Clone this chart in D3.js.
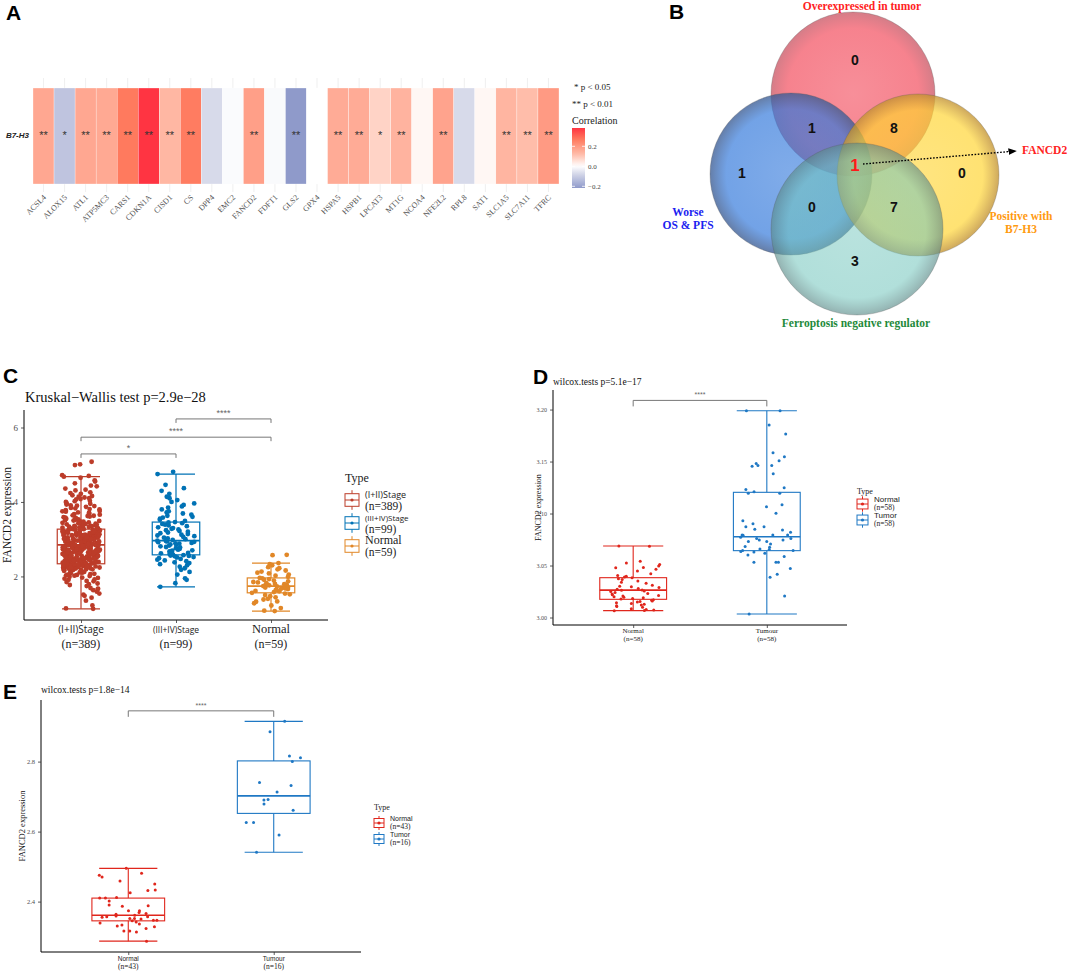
<!DOCTYPE html>
<html>
<head>
<meta charset="utf-8">
<script src="https://cdn.jsdelivr.net/npm/d3@7"></script>
<style>
  body { margin: 0; background: #fff; }
  svg { display: block; }
</style>
</head>
<body>
<svg id="fig" width="1072" height="974"></svg>
<script>
// ---------- data ----------
const genes = ["ACSL4","ALOX15","ATL1","ATP5MC3","CARS1","CDKN1A","CISD1","CS","DPP4","EMC2","FANCD2","FDFT1","GLS2",
  "GPX4","HSPA5","HSPB1","LPCAT3","MT1G","NCOA4","NFE2L2","RPL8","SAT1","SLC1A5","SLC7A11","TFRC"];
const corrB7H3 = [0.17,-0.12,0.17,0.165,0.27,0.383,0.13,0.265,-0.07,-0.008,0.19,-0.01,-0.217,
  0.0,0.16,0.16,0.08,0.14,0.015,0.18,-0.07,0.015,0.135,0.12,0.2];
const sigB7H3 = ["**","*","**","**","**","**","**","**","","","**","","**",
  "","**","**","*","**","","**","","","**","**","**"];
const corrTicks = [0.2, 0.0, -0.2];

const vennSets = ["Overexpressed in tumor", "Worse OS & PFS", "Positive with B7-H3", "Ferroptosis negative regulator"];
const vennCounts = [0, 1, 8, 1, 1, 0, 0, 7, 3];
const vennHit = "FANCD2";

// panel C
const stageGroups = ["(I+II)Stage", "(III+IV)Stage", "Normal"];
const stageN = [389, 99, 59];
const stageStats = [ // [lowWhisker, q1, median, q3, highWhisker]
  [1.13, 2.34, 2.85, 3.27, 4.68],
  [1.72, 2.58, 2.96, 3.46, 4.75],
  [1.07, 1.56, 1.74, 1.96, 2.36]
];
const stageEarly = [1.13,1.14,1.22,1.35,1.43,1.51,1.54,1.59,1.63,1.67,1.69,1.74,1.77,1.81,1.85,1.87,1.91,1.94,1.96,1.99,
  2.01,2.03,2.04,2.07,2.08,2.10,2.12,2.13,2.15,2.16,2.17,2.19,2.20,2.21,2.22,2.23,2.24,2.25,2.26,2.27,2.28,2.28,2.29,2.30,
  2.31,2.31,2.32,2.33,2.33,2.34,2.34,2.36,2.37,2.385,2.39,2.41,2.415,2.42,2.44,2.45,2.455,2.47,2.48,2.49,2.50,2.515,2.52,
  2.54,2.55,2.555,2.57,2.58,2.59,2.605,2.61,2.63,2.64,2.645,2.66,2.67,2.68,2.695,2.70,2.72,2.73,2.735,2.75,2.76,2.77,2.785,
  2.79,2.80,2.82,2.83,2.835,2.85,2.86,2.87,2.875,2.89,2.90,2.91,2.925,2.93,2.94,2.96,2.965,2.97,2.99,3.00,3.005,3.02,3.03,
  3.04,3.05,3.06,3.065,3.08,3.09,3.10,3.11,3.115,3.13,3.14,3.145,3.16,3.17,3.18,3.19,3.20,3.21,3.22,3.225,3.24,3.25,3.26,
  3.27,3.28,3.30,3.31,3.33,3.35,3.36,3.38,3.40,3.42,3.44,3.46,3.48,3.50,3.52,3.54,3.57,3.59,3.62,3.64,3.67,3.70,3.72,3.75,
  3.78,3.81,3.84,3.87,3.90,3.93,3.96,4.00,4.03,4.07,4.10,4.14,4.18,4.22,4.26,4.31,4.36,4.42,4.50,4.58,4.65,4.68,4.72,4.70,
  4.99,5.08,5.01,2.25,2.48,2.62,2.71,2.88,2.95,3.07,3.12,3.23,2.38,2.53,2.66,2.81,2.97,3.02,3.16,2.43,2.58,2.74,2.92,3.08,
  3.29,2.19,2.35,2.52,2.68,2.86,3.01,3.19,3.34,2.46,2.77,3.11,2.61,2.84,3.04,2.29,2.57,2.93,3.37,3.53,2.05,2.40,2.69,2.98,
  2.02,2.11,2.18,2.24,2.27,2.33,2.36,2.39,2.42,2.44,2.47,2.49,2.51,2.53,2.56,2.59,2.60,2.63,2.65,2.67,2.69,2.72,2.74,2.76,
  2.78,2.80,2.81,2.84,2.86,2.88,2.90,2.92,2.95,2.97,2.99,3.01,3.03,3.06,3.09,3.12,3.15,3.18,3.21,3.24,3.27,3.30,3.34,3.39,
  3.45,3.51,3.58,3.66,3.74,3.83,3.95,4.08,4.24,4.44,1.88,1.97,2.06,2.14,2.21,2.26,2.31,2.35,2.38,2.41,2.45,2.48,2.50,2.54,
  2.57,2.62,2.64,2.68,2.71,2.75,2.79,2.82,2.87,2.89,2.94,2.98,3.00,3.04,3.07,3.10,3.13,3.17,3.20,3.23,3.26,3.32,3.36,3.41,
  3.47,3.55,3.63,3.71,3.80,3.91,4.02,4.16,4.33,4.55,1.79,2.09,2.23,2.30,2.37,2.43,2.51,2.55,2.61,2.66,2.70,2.73,2.77,2.83,
  2.85,2.91,2.96,3.02,3.05,3.11,3.14,3.19,3.22,3.28,3.33,3.43,3.49,3.61,3.76,3.89,4.12,1.48,1.66,1.92];
const stageLate = [1.72,1.82,1.91,1.95,2.05,2.12,2.18,2.22,2.26,2.30,2.33,2.36,2.38,2.41,2.43,2.45,2.47,2.49,2.51,2.52,2.54,
  2.55,2.56,2.57,2.58,2.60,2.62,2.63,2.65,2.67,2.69,2.70,2.72,2.74,2.76,2.78,2.79,2.81,2.83,2.85,2.86,2.88,2.89,2.90,2.92,
  2.93,2.94,2.95,2.96,2.98,3.00,3.02,3.04,3.06,3.08,3.10,3.12,3.14,3.16,3.18,3.20,3.22,3.24,3.26,3.28,3.30,3.32,3.35,3.37,
  3.39,3.41,3.43,3.45,3.46,3.49,3.52,3.55,3.58,3.60,3.63,3.66,3.69,3.72,3.75,3.80,3.85,3.88,3.92,3.96,4.00,4.05,4.10,4.14,
  4.22,4.30,4.37,4.46,4.75,4.81];
const stageNormal = [1.07,1.08,1.15,1.22,1.28,1.32,1.33,1.38,1.40,1.44,1.47,1.50,1.52,1.54,1.56,1.58,1.60,1.61,1.63,1.64,
  1.66,1.67,1.68,1.69,1.70,1.71,1.72,1.73,1.74,1.75,1.76,1.77,1.78,1.79,1.80,1.82,1.84,1.85,1.87,1.89,1.91,1.93,1.95,1.96,
  1.99,2.02,2.05,2.08,2.10,2.13,2.16,2.19,2.22,2.25,2.30,2.33,2.36,2.58,2.57];
const stageTicks = [2, 4, 6];
const stageBrackets = [ // [from, to, height, label]
  [0, 1, 5.29, "*"],
  [0, 2, 5.74, "****"],
  [1, 2, 6.23, "****"]
];

// panel D
const dGroups = ["Normal", "Tumour"];
const dLegend = ["Normal", "Tumor"];
const dN = [58, 58];
const dStats = [
  [3.0066, 3.0175, 3.0264, 3.0383, 3.0688],
  [3.0034, 3.0643, 3.0777, 3.1204, 3.1989]
];
const dNormal = [3.0688,3.0685,3.0540,3.0525,3.0510,3.0495,3.0480,3.0478,3.0465,3.0448,3.0420,3.0405,3.0398,3.0390,
  3.0382,3.0372,3.0365,3.0352,3.0340,3.0330,3.0310,3.0300,3.0295,3.0288,3.0280,3.0272,3.0265,3.0262,3.0255,3.0250,3.0240,
  3.0232,3.0225,3.0220,3.0212,3.0208,3.0200,3.0195,3.0190,3.0182,3.0178,3.0172,3.0165,3.0160,3.0155,3.0150,3.0142,3.0135,
  3.0128,3.0120,3.0112,3.0105,3.0098,3.0085,3.0078,3.0072,3.0066,3.0068];
const dTumor = [3.1989,3.1989,3.1851,3.1764,3.1585,3.1547,3.1508,3.1482,3.1463,3.1463,3.1455,3.1383,3.1248,3.1232,3.1210,
  3.1196,3.1196,3.1085,3.1066,3.1002,3.0931,3.0902,3.0873,3.0873,3.0848,3.0841,3.0819,3.0794,3.0794,3.0794,3.0772,3.0759,
  3.0759,3.0746,3.0746,3.0730,3.0730,3.0708,3.0682,3.0676,3.0660,3.0644,3.0644,3.0634,3.0618,3.0631,3.0602,3.0586,3.0532,
  3.0532,3.0532,3.0471,3.0417,3.0388,3.0208,3.0034,3.0655,3.0790];
const dTicks = [3.00, 3.05, 3.10, 3.15, 3.20];

// panel E
const eN = [43, 16];
const eStats = [
  [2.287, 2.345, 2.361, 2.410, 2.495],
  [2.541, 2.652, 2.702, 2.802, 2.915]
];
const eNormal = [2.495,2.481,2.475,2.470,2.459,2.450,2.433,2.432,2.425,2.412,2.410,2.410,2.402,2.390,2.388,2.387,2.374,
  2.374,2.369,2.366,2.364,2.361,2.359,2.357,2.357,2.355,2.352,2.352,2.350,2.347,2.347,2.345,2.342,2.339,2.336,2.333,2.328,
  2.323,2.316,2.316,2.313,2.287,2.330];
const eTumor = [2.915,2.885,2.816,2.811,2.800,2.740,2.732,2.713,2.692,2.690,2.679,2.661,2.626,2.626,2.590,2.541];
const eTicks = [2.4, 2.6, 2.8];

// ---------- setup ----------
const svg = d3.select("#fig");
const SERIF = "'Liberation Serif', 'Times New Roman', serif";
const SANS = "'Liberation Sans', Arial, sans-serif";
const SANS2 = "'Open Sans', 'DejaVu Sans', sans-serif";
const defs = svg.append("defs");

function letter(t, x, y) {
  svg.append("text").attr("x", x).attr("y", y).text(t)
    .attr("font-family", SANS).attr("font-weight", "bold").attr("font-size", 21);
}

// deterministic jitter in [-0.5, 0.5]
function jit(i, k) {
  const s = Math.sin(i * 127.1 + k * 311.7) * 43758.5453;
  return s - Math.floor(s) - 0.5;
}

// ---------- panel A: heatmap ----------
letter("A", 6, 20);
(function() {
  const x = d3.scaleBand().domain(genes).range([33, 559]);
  const color = d3.scaleLinear()
    .domain([-0.217, -0.07, 0, 0.13, 0.19, 0.27, 0.383])
    .range(["#8F9ACA", "#D7DAEA", "#FFFFFF", "#FFB7A3", "#FF9F88", "#FF7A5E", "#FF3442"]);
  const g = svg.append("g");

  g.selectAll("line.grid").data(genes).enter().append("line")
    .attr("x1", d => x(d) + x.bandwidth() / 2).attr("x2", d => x(d) + x.bandwidth() / 2)
    .attr("y1", 78).attr("y2", 192).attr("stroke", "#EBEBEB").attr("stroke-width", 0.8);

  g.selectAll("rect.tile").data(genes).enter().append("rect")
    .attr("x", d => x(d)).attr("y", 88).attr("width", x.bandwidth()).attr("height", 96)
    .attr("fill", (d, i) => color(corrB7H3[i]))
    .attr("stroke", "#fff").attr("stroke-width", 0.3);

  g.selectAll("text.sig").data(genes).enter().append("text")
    .attr("x", d => x(d) + x.bandwidth() / 2).attr("y", 139)
    .attr("text-anchor", "middle").attr("font-family", SANS).attr("font-size", 11)
    .attr("fill", "#333").text((d, i) => sigB7H3[i]);

  g.append("text").attr("x", 29).attr("y", 138).attr("text-anchor", "end")
    .attr("font-family", SANS).attr("font-size", 8).attr("font-weight", "bold")
    .attr("font-style", "italic").attr("fill", "#222").text("B7-H3");

  g.selectAll("text.gene").data(genes).enter().append("text")
    .attr("transform", d => `translate(${x(d) + x.bandwidth() / 2 + 3},198) rotate(-45)`)
    .attr("text-anchor", "end").attr("font-family", SERIF).attr("font-size", 8)
    .attr("fill", "#555").text(d => d);

  // legend
  g.append("text").attr("x", 574).attr("y", 90).attr("font-family", SERIF).attr("font-size", 9)
    .attr("fill", "#222").text("* p < 0.05");
  g.append("text").attr("x", 572).attr("y", 107).attr("font-family", SERIF).attr("font-size", 9)
    .attr("fill", "#222").text("** p < 0.01");
  g.append("text").attr("x", 572).attr("y", 124).attr("font-family", SERIF).attr("font-size", 10)
    .attr("fill", "#222").text("Correlation");

  const cb = d3.scaleLinear().domain([-0.217, 0.383]).range([188, 128]);
  const grad = defs.append("linearGradient").attr("id", "corrGrad")
    .attr("x1", 0).attr("y1", 1).attr("x2", 0).attr("y2", 0);
  d3.range(21).forEach(k => {
    const v = -0.217 + k * 0.03;
    grad.append("stop").attr("offset", k / 20).attr("stop-color", color(v));
  });
  g.append("rect").attr("x", 572).attr("y", 128).attr("width", 13).attr("height", 60)
    .attr("fill", "url(#corrGrad)");
  corrTicks.forEach(t => {
    g.append("line").attr("x1", 572).attr("x2", 575).attr("y1", cb(t)).attr("y2", cb(t))
      .attr("stroke", "#fff").attr("stroke-width", 0.8);
    g.append("line").attr("x1", 582).attr("x2", 585).attr("y1", cb(t)).attr("y2", cb(t))
      .attr("stroke", "#fff").attr("stroke-width", 0.8);
    g.append("text").attr("x", 588).attr("y", cb(t) + 2.5).attr("font-family", SERIF)
      .attr("font-size", 7).attr("fill", "#444").text(d3.format(".1f")(t).replace("-", "\u2212"));
  });
})();

// ---------- panel B: venn ----------
letter("B", 669, 19);
(function() {
  const cx = 855, cy = 165;
  const circles = [
    { dx: -2, dy: -71, r: 82, fill: "#F0283C", op: 0.58, edge: "#c04050" },
    { dx: -64, dy: 9, r: 81, fill: "#3077DB", op: 0.68, edge: "#3a5a90" },
    { dx: 63, dy: 10, r: 81, fill: "#FFD430", op: 0.68, edge: "#c09030" },
    { dx: 2, dy: 64, r: 86, fill: "#71C5BC", op: 0.55, edge: "#5a8a88" }
  ];
  circles.forEach((c, i) => {
    const rg = defs.append("radialGradient").attr("id", "vg" + i);
    rg.append("stop").attr("offset", "0%").attr("stop-color", c.fill).attr("stop-opacity", c.op * 0.9);
    rg.append("stop").attr("offset", "80%").attr("stop-color", c.fill).attr("stop-opacity", c.op);
    rg.append("stop").attr("offset", "100%").attr("stop-color", c.edge).attr("stop-opacity", c.op + 0.1);
  });
  svg.append("g").selectAll("circle").data(circles).enter().append("circle")
    .attr("cx", d => cx + d.dx).attr("cy", d => cy + d.dy).attr("r", d => d.r)
    .attr("fill", (d, i) => `url(#vg${i})`)
    .attr("stroke", "#555").attr("stroke-opacity", 0.35).attr("stroke-width", 0.8);

  // region label spots, relative to the venn centre
  const spots = [[0, -105], [-43, -37], [39, -37], [-113, 8], [0, 0], [107, 8], [-43, 42], [39, 42], [0, 96]];
  svg.append("g").selectAll("text").data(vennCounts).enter().append("text")
    .attr("x", (d, i) => cx + spots[i][0]).attr("y", (d, i) => cy + spots[i][1])
    .attr("dy", "0.36em").attr("text-anchor", "middle")
    .attr("font-family", SANS).attr("font-weight", "bold")
    .attr("font-size", (d, i) => i === 4 ? 17 : 14)
    .attr("fill", (d, i) => i === 4 ? "#FF1A1A" : "#111")
    .text(d => d);

  const lab = (lines, x, y, col, anchor) => {
    const t = svg.append("text").attr("x", x).attr("y", y).attr("text-anchor", anchor || "middle")
      .attr("font-family", SERIF).attr("font-weight", "bold").attr("font-size", 11.5).attr("fill", col);
    lines.forEach((l, k) => t.append("tspan").attr("x", x).attr("dy", k ? 12.5 : 0).text(l));
  };
  lab([vennSets[0]], 862, 10, "#FF2222");
  lab(["Worse", "OS & PFS"], 688, 216, "#1A22F0");
  lab(["Positive with", "B7-H3"], 1021, 220, "#FF9A10");
  lab([vennSets[3]], 856, 327, "#1E8A3A");
  lab([vennHit], 1022, 154, "#FF2222", "start");

  defs.append("marker").attr("id", "arr").attr("viewBox", "0 0 10 10").attr("refX", 9).attr("refY", 5)
    .attr("markerWidth", 6).attr("markerHeight", 6).attr("orient", "auto")
    .append("path").attr("d", "M0,1L10,5L0,9Z").attr("fill", "#000");
  svg.append("line").attr("x1", 863).attr("y1", 164).attr("x2", 1016).attr("y2", 151)
    .attr("stroke", "#000").attr("stroke-width", 1.4).attr("stroke-dasharray", "1.6,1.6")
    .attr("marker-end", "url(#arr)");
})();

// ---------- box plot panels ----------
function boxPanel(c) {
  const g = svg.append("g");
  const y = d3.scaleLinear().domain(c.yDomain).range([c.yBot, c.yTop]);
  const x = d3.scalePoint().domain(c.groups).range([c.x0, c.x1]).padding(0.6);
  const step = x.step();
  const bw = step * 0.5, cw = step * c.capFrac;

  // axes
  const ya = g.append("g").attr("transform", `translate(${c.x0},0)`)
    .call(d3.axisLeft(y).tickValues(c.ticks).tickSize(3).tickFormat(c.tickFmt));
  const xa = g.append("g").attr("transform", `translate(0,${c.yBot})`)
    .call(d3.axisBottom(x).tickSize(3).tickFormat(""));
  [ya, xa].forEach(a => {
    a.select(".domain").attr("stroke", "#000").attr("stroke-width", 1);
    a.selectAll(".tick line").attr("stroke", "#333").attr("stroke-width", 0.8);
  });
  ya.selectAll(".tick text").attr("font-family", SERIF).attr("font-size", c.tickSize).attr("fill", "#4D4D4D");
  ya.select(".domain").attr("d", `M0,${c.yTop}V${c.yBot}`);
  xa.select(".domain").attr("d", `M${c.x0},0H${c.x1}`);

  // x labels (two lines)
  c.groups.forEach((grp, i) => {
    const t = g.append("text").attr("x", x(grp)).attr("y", c.yBot + c.xlab1).attr("text-anchor", "middle")
      .attr("fill", "#222");
    t.append("tspan").attr("x", x(grp)).attr("font-family", c.xFonts[i][0]).attr("font-size", c.xFonts[i][1])
      .text(grp);
    t.append("tspan").attr("x", x(grp)).attr("dy", c.xlab2).attr("font-family", SERIF)
      .attr("font-size", c.nSize).text(`(n=${c.n[i]})`);
  });

  // y title
  g.append("text").attr("transform", `translate(${c.yTitleX},${(c.yTop + c.yBot) / 2}) rotate(-90)`)
    .attr("text-anchor", "middle").attr("font-family", SERIF).attr("font-size", c.yTitleSize)
    .attr("fill", "#111").text("FANCD2 expression");

  // title
  g.append("text").attr("x", c.titleX).attr("y", c.titleY).attr("font-family", SERIF)
    .attr("font-size", c.titleSize).attr("fill", "#111").text(c.title);

  // boxes
  c.groups.forEach((grp, i) => {
    const s = c.stats[i], col = c.colors[i], cxp = x(grp);
    const bg = g.append("g").attr("stroke", col).attr("fill", "none").attr("stroke-width", c.lw);
    bg.append("line").attr("x1", cxp).attr("x2", cxp).attr("y1", y(s[0])).attr("y2", y(s[1]));
    bg.append("line").attr("x1", cxp).attr("x2", cxp).attr("y1", y(s[3])).attr("y2", y(s[4]));
    bg.append("line").attr("x1", cxp - cw / 2).attr("x2", cxp + cw / 2).attr("y1", y(s[0])).attr("y2", y(s[0]));
    bg.append("line").attr("x1", cxp - cw / 2).attr("x2", cxp + cw / 2).attr("y1", y(s[4])).attr("y2", y(s[4]));
    bg.append("rect").attr("x", cxp - bw / 2).attr("width", bw).attr("y", y(s[3])).attr("height", y(s[1]) - y(s[3]));
    bg.append("line").attr("x1", cxp - bw / 2).attr("x2", cxp + bw / 2).attr("y1", y(s[2])).attr("y2", y(s[2]))
      .attr("stroke-width", c.lw * 1.5);
    g.append("g").selectAll("circle").data(c.points[i]).enter().append("circle")
      .attr("cx", (d, k) => cxp + jit(k, i + c.seed) * step * 0.4)
      .attr("cy", d => y(d)).attr("r", c.pr).attr("fill", col);
  });

  // significance brackets
  c.brackets.forEach(b => {
    const xa1 = x(c.groups[b[0]]), xa2 = x(c.groups[b[1]]);
    const yb = y(b[2]), yt = yb + c.brTick;
    g.append("path").attr("d", `M${xa1},${yt}V${yb}H${xa2}V${yt}`)
      .attr("fill", "none").attr("stroke", "#777").attr("stroke-width", 1);
    g.append("text").attr("x", (xa1 + xa2) / 2).attr("y", yb - c.brGap).attr("text-anchor", "middle")
      .attr("font-family", SANS).attr("font-size", c.starSize).attr("fill", "#666").text(b[3]);
  });

  // legend
  const L = c.legend;
  g.append("text").attr("x", L.x).attr("y", L.y).attr("font-family", SERIF).attr("font-size", L.title)
    .attr("fill", "#222").text("Type");
  L.labels.forEach((lb, i) => {
    const ky = L.y + L.first + i * L.gap, col = c.colors[i];
    const kg = g.append("g").attr("stroke", col).attr("fill", "none").attr("stroke-width", 1);
    kg.append("line").attr("x1", L.x + L.k / 2).attr("x2", L.x + L.k / 2).attr("y1", ky - L.k * 0.7).attr("y2", ky + L.k * 0.7);
    kg.append("rect").attr("x", L.x).attr("y", ky - L.k * 0.45).attr("width", L.k).attr("height", L.k * 0.9)
      .attr("fill", "#fff");
    kg.append("line").attr("x1", L.x).attr("x2", L.x + L.k).attr("y1", ky).attr("y2", ky);
    g.append("circle").attr("cx", L.x + L.k / 2).attr("cy", ky).attr("r", 1.6).attr("fill", col);
    const t = g.append("text").attr("x", L.x + L.k + 6).attr("y", ky - 2).attr("fill", "#222");
    t.append("tspan").attr("font-family", lb[1]).attr("font-size", lb[2]).text(lb[0]);
    t.append("tspan").attr("x", L.x + L.k + 6).attr("dy", L.nDy).attr("font-family", SERIF)
      .attr("font-size", L.nSize).text(`(n=${c.n[i]})`);
  });
}

// panel C
letter("C", 3, 383);
boxPanel({
  groups: stageGroups, n: stageN, stats: stageStats, points: [stageEarly, stageLate, stageNormal],
  colors: ["#BC3C29", "#0072B5", "#E18727"],
  x0: 24, x1: 328, yTop: 410, yBot: 620, yDomain: [0.83, 6.47], ticks: stageTicks, tickFmt: d3.format("d"),
  tickSize: 9, capFrac: 0.4, lw: 1.2, pr: 2.4, seed: 1,
  xFonts: [[SANS2, 10], [SANS2, 8.5], [SERIF, 12.5]], xlab1: 13, xlab2: 15, nSize: 12,
  yTitleX: 11, yTitleSize: 11.5,
  title: "Kruskal\u2212Wallis test p=2.9e\u221228", titleX: 25, titleY: 402, titleSize: 14.5,
  brackets: stageBrackets, brTick: 4, brGap: 3, starSize: 9,
  legend: { x: 345, y: 482, title: 12, first: 18, gap: 23, k: 14, nDy: 12, nSize: 11.5,
    labels: [[stageGroups[0], SANS2, 9], [stageGroups[1], SANS2, 8], [stageGroups[2], SERIF, 12]] }
});

// panel D
letter("D", 533, 384);
boxPanel({
  groups: dGroups, n: dN, stats: dStats, points: [dNormal, dTumor],
  colors: ["#E0261C", "#1F78C4"],
  x0: 553, x1: 847, yTop: 390, yBot: 625, yDomain: [2.9928, 3.2188], ticks: dTicks, tickFmt: d3.format(".2f"),
  tickSize: 6, capFrac: 0.45, lw: 1.1, pr: 1.5, seed: 7,
  xFonts: [[SERIF, 7], [SERIF, 7]], xlab1: 8, xlab2: 8, nSize: 7,
  yTitleX: 541, yTitleSize: 8,
  title: "wilcox.tests p=5.1e\u221217", titleX: 553, titleY: 385, titleSize: 9.5,
  brackets: [[0, 1, 3.2088, "****"]], brTick: 6, brGap: 3, starSize: 7,
  legend: { x: 857, y: 494, title: 8, first: 10, gap: 16, k: 11, nDy: 8, nSize: 7.5,
    labels: [[dLegend[0], SANS, 8], [dLegend[1], SANS, 8]] }
});

// panel E
letter("E", 3, 699);
boxPanel({
  groups: dGroups, n: eN, stats: eStats, points: [eNormal, eTumor],
  colors: ["#E0261C", "#1F78C4"],
  x0: 41, x1: 361, yTop: 700, yBot: 952, yDomain: [2.256, 2.976], ticks: eTicks, tickFmt: d3.format(".1f"),
  tickSize: 6.5, capFrac: 0.4, lw: 1.1, pr: 1.5, seed: 13,
  xFonts: [[SANS, 6.5], [SANS, 6.5]], xlab1: 9, xlab2: 8, nSize: 7.5,
  yTitleX: 25, yTitleSize: 8.5,
  title: "wilcox.tests p=1.8e\u221214", titleX: 41, titleY: 693, titleSize: 9.5,
  brackets: [[0, 1, 2.945, "****"]], brTick: 6, brGap: 3, starSize: 7,
  legend: { x: 374, y: 810, title: 8, first: 13, gap: 16, k: 10, nDy: 8, nSize: 7.5,
    labels: [[dLegend[0], SANS, 7], [dLegend[1], SANS, 7]] }
});
</script>
</body>
</html>
